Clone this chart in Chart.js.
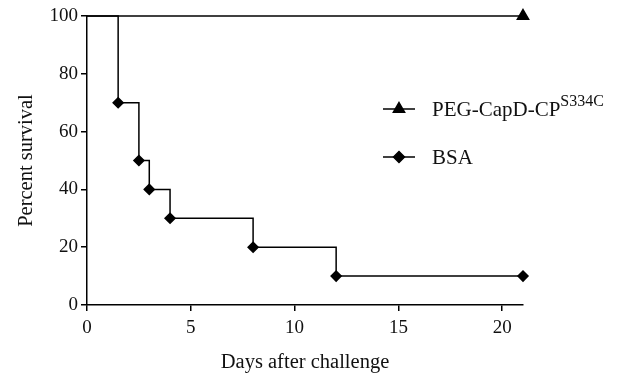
<!DOCTYPE html>
<html>
<head>
<meta charset="utf-8">
<script src="https://cdn.jsdelivr.net/npm/chart.js@4"></script>
<style>
  html, body { margin: 0; padding: 0; background: #fff; }
  #wrap { width: 622px; height: 375px; position: relative; }
</style>
</head>
<body>
<div id="wrap"><canvas id="survivalChart"></canvas></div>
<script>
// survival curves, days vs percent
const bsaDays = [0, 1.5, 2.5, 3, 4, 8, 12, 21];
const bsaSurvival = [100, 70, 50, 40, 30, 20, 10, 10];
const pegDays = [0, 21];
const pegSurvival = [100, 100];

const xTicks = [0, 5, 10, 15, 20];
const yTicks = [0, 20, 40, 60, 80, 100];

const FONT = "'Liberation Serif', 'DejaVu Serif', serif";

const toPoints = (xs, ys) => xs.map((x, i) => ({ x: x, y: ys[i] }));

// legend drawn by hand because of the superscript
const legendPlugin = {
  id: "sideLegend",
  afterDraw(chart) {
    const ctx = chart.ctx;
    const items = [
      { style: "triangle", r: 6.5, text: "PEG-CapD-CP", sup: "S334C", y: 109 },
      { style: "rectRot", r: 5.5, text: "BSA", sup: "", y: 157 }
    ];
    ctx.save();
    items.forEach(it => {
      ctx.strokeStyle = "#000";
      ctx.lineWidth = 1.5;
      ctx.beginPath();
      ctx.moveTo(383, it.y);
      ctx.lineTo(415, it.y);
      ctx.stroke();
      ctx.fillStyle = "#000";
      Chart.helpers.drawPoint(ctx, { pointStyle: it.style, radius: it.r, borderWidth: 1 }, 399, it.y);
      ctx.fillStyle = "#111";
      ctx.textBaseline = "middle";
      ctx.textAlign = "left";
      ctx.font = "21px " + FONT;
      ctx.fillText(it.text, 432, it.y + 1);
      if (it.sup) {
        const w = ctx.measureText(it.text).width;
        ctx.font = "16px " + FONT;
        ctx.fillText(it.sup, 432 + w, it.y - 7);
      }
    });
    ctx.restore();
  }
};

new Chart(document.getElementById("survivalChart"), {
  type: "scatter",
  data: {
    datasets: [
      {
        label: "PEG-CapD-CP S334C",
        data: toPoints(pegDays, pegSurvival),
        showLine: true,
        borderColor: "#000",
        backgroundColor: "#000",
        borderWidth: 1.5,
        pointStyle: "triangle",
        pointRadius: [0, 6.5],
        clip: false
      },
      {
        label: "BSA",
        data: toPoints(bsaDays, bsaSurvival),
        showLine: true,
        stepped: true,
        borderColor: "#000",
        backgroundColor: "#000",
        borderWidth: 1.5,
        pointStyle: "rectRot",
        pointRadius: [0, 5, 5, 5, 5, 5, 5, 5],
        clip: false
      }
    ]
  },
  options: {
    responsive: true,
    maintainAspectRatio: false,
    animation: false,
    layout: { padding: { top: 16, right: 99, bottom: 0, left: 14 } },
    plugins: {
      legend: { display: false },
      tooltip: { enabled: false }
    },
    scales: {
      x: {
        type: "linear",
        min: 0,
        max: 21,
        afterBuildTicks: s => { s.ticks = xTicks.map(v => ({ value: v })); },
        afterFit: s => { s.height = 70; },
        border: { color: "#000", width: 1.5 },
        grid: { drawOnChartArea: false, color: "#000", tickLength: 6, lineWidth: 1.5 },
        ticks: { color: "#111", font: { family: FONT, size: 19 }, padding: 6, maxRotation: 0 },
        title: {
          display: true,
          text: "Days after challenge",
          color: "#111",
          font: { family: FONT, size: 20.5 },
          padding: { top: 8, bottom: 0 }
        }
      },
      y: {
        min: 0,
        max: 100,
        afterBuildTicks: s => { s.ticks = yTicks.map(v => ({ value: v })); },
        afterFit: s => { s.width = 73; },
        border: { color: "#000", width: 1.5 },
        grid: { drawOnChartArea: false, color: "#000", tickLength: 6, lineWidth: 1.5 },
        ticks: { color: "#111", font: { family: FONT, size: 19 }, padding: 3 },
        title: {
          display: true,
          text: "Percent survival",
          color: "#111",
          font: { family: FONT, size: 20.5 },
          padding: { top: 0, bottom: 6 }
        }
      }
    }
  },
  plugins: [legendPlugin]
});
</script>
</body>
</html>
